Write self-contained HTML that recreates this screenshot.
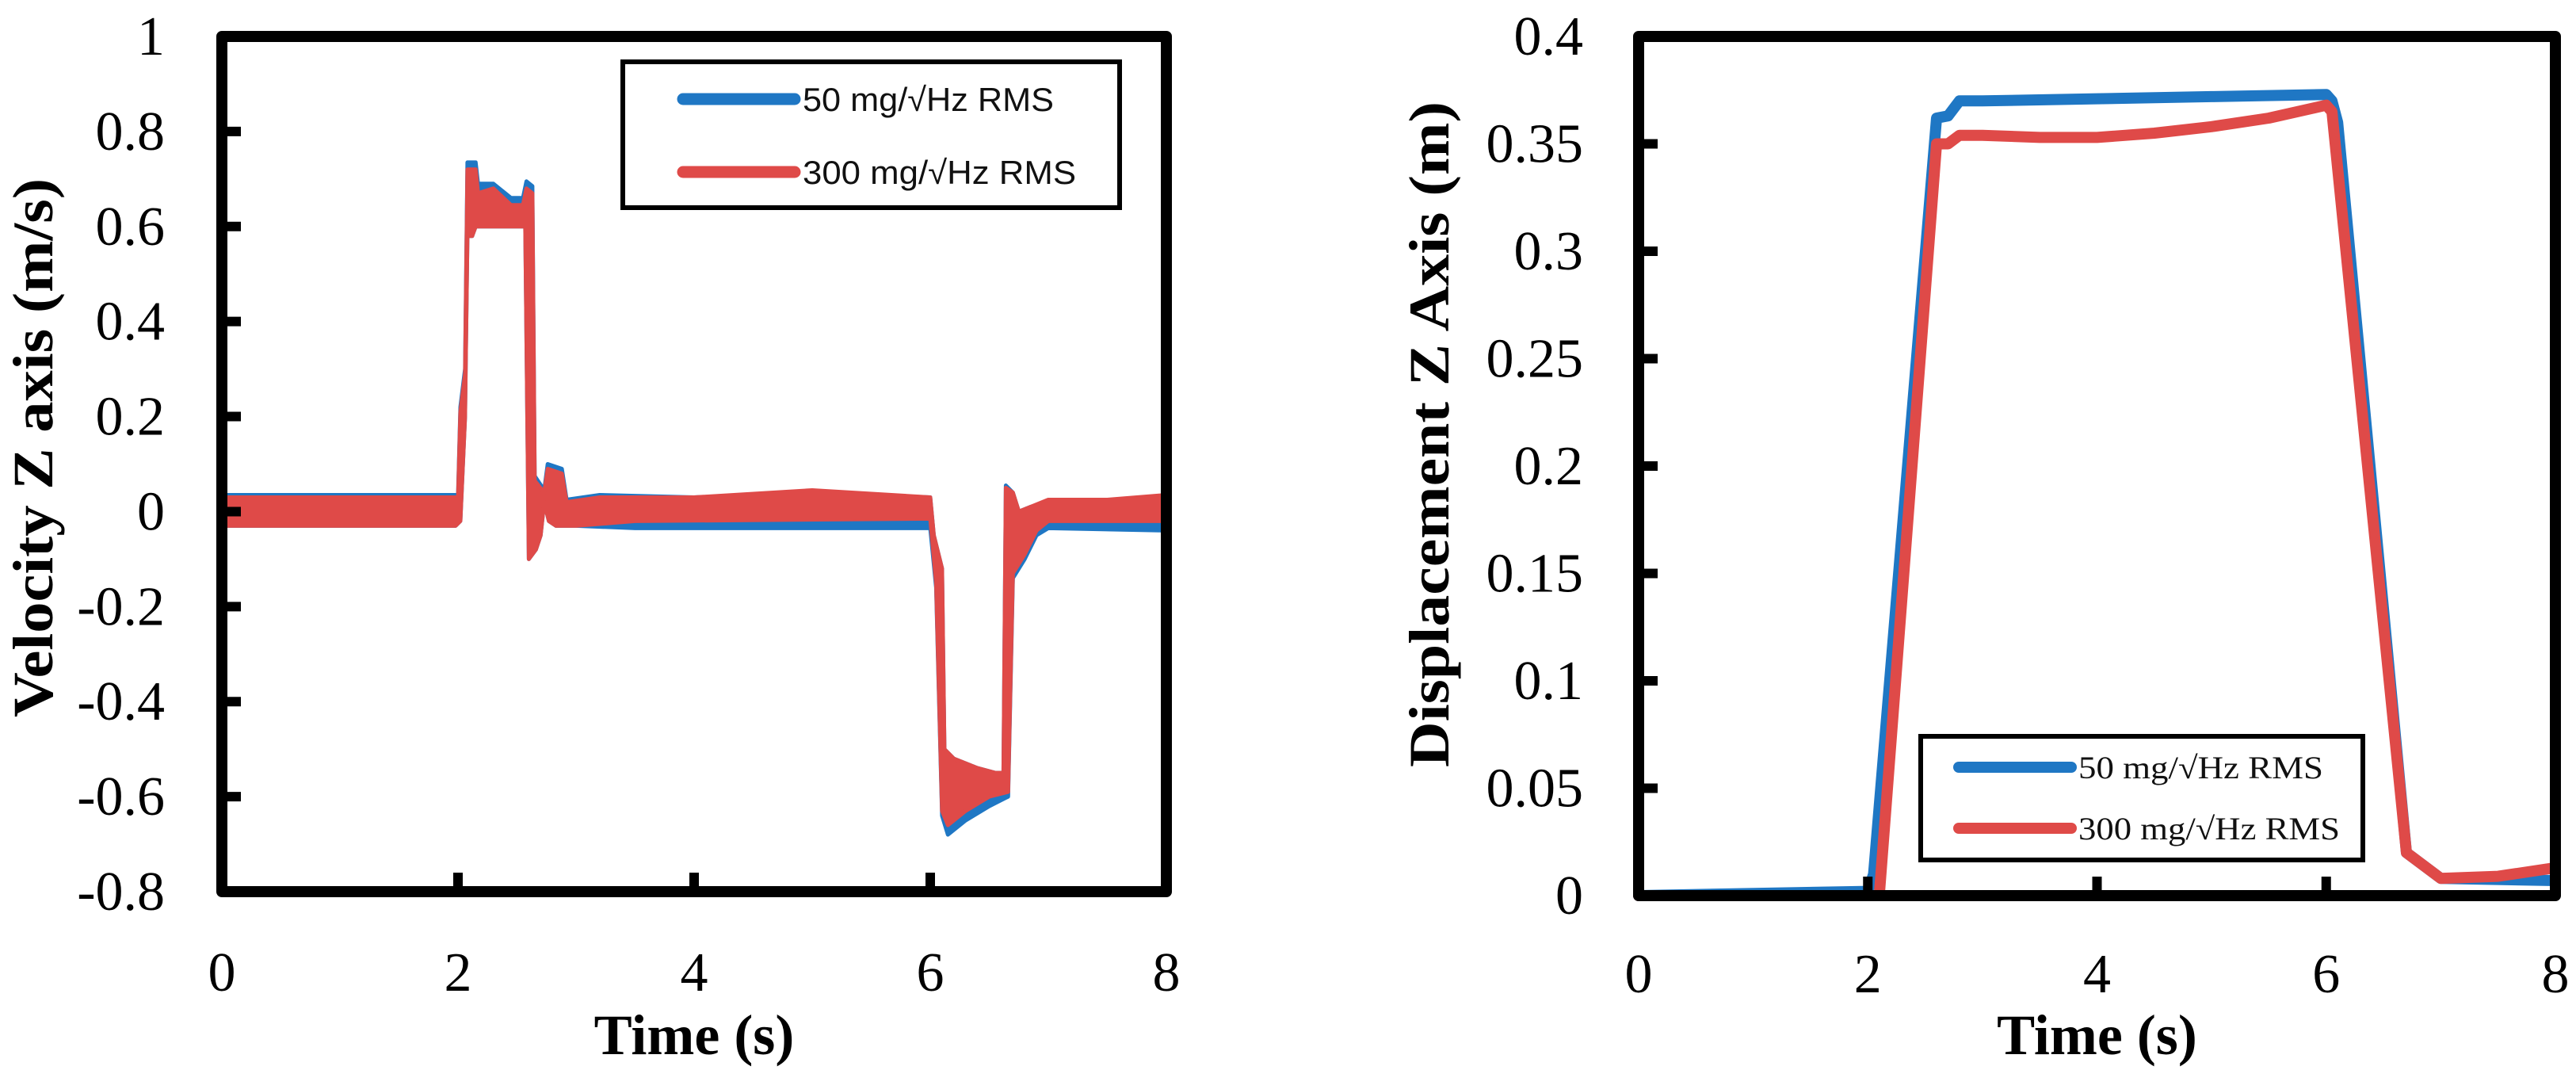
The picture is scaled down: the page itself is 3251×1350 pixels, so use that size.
<!DOCTYPE html>
<html><head><meta charset="utf-8"><style>
html,body{margin:0;padding:0;background:#fff;}
svg{display:block;}
</style></head><body>
<svg id="chart" width="3251" height="1350" viewBox="0 0 3251 1350" xmlns="http://www.w3.org/2000/svg">
<g id="left"></g>
<g id="right"></g>
</svg>
<script>
// ---- Velocity chart data ----
const velXTicks = [0, 2, 4, 6, 8];
const velYTicks = [-0.8, -0.6, -0.4, -0.2, 0, 0.2, 0.4, 0.6, 0.8, 1];
const velYTickLabels = ["-0.8","-0.6","-0.4","-0.2","0","0.2","0.4","0.6","0.8","1"];
const blueUpT = [0,1.98,2.0,2.02,2.06,2.08,2.15,2.17,2.3,2.45,2.55,2.58,2.63,2.65,2.73,2.76,2.88,2.92,3.2,4.0,5.0,6.0,6.03,6.1,6.12,6.2,6.4,6.55,6.62,6.64,6.7,6.75,6.85,7.0,7.5,8.0];
const blueUpV = [0.035,0.035,0.03,0.22,0.3,0.735,0.735,0.69,0.69,0.66,0.66,0.695,0.685,0.075,0.045,0.1,0.09,0.025,0.035,0.03,0.04,0.03,-0.05,-0.12,-0.5,-0.52,-0.54,-0.55,-0.55,0.055,0.04,0.0,0.01,0.02,0.02,0.03];
const blueLoT = [0,1.98,2.02,2.06,2.08,2.12,2.15,2.5,2.57,2.6,2.66,2.7,2.73,2.77,2.83,3.0,3.5,6.0,6.05,6.1,6.15,6.3,6.5,6.66,6.7,6.8,6.9,7.0,8.0];
const blueLoV = [-0.03,-0.03,-0.02,0.2,0.58,0.58,0.6,0.6,0.6,-0.1,-0.08,-0.05,0.02,-0.02,-0.03,-0.03,-0.035,-0.035,-0.16,-0.64,-0.68,-0.65,-0.62,-0.6,-0.14,-0.1,-0.05,-0.035,-0.04];
const redUpT = [0,1.98,2.0,2.02,2.06,2.08,2.15,2.17,2.3,2.45,2.55,2.58,2.63,2.65,2.73,2.76,2.88,2.92,3.2,4.0,5.0,6.0,6.03,6.1,6.12,6.2,6.4,6.55,6.62,6.64,6.7,6.75,6.85,7.0,7.5,8.0];
const redUpV = [0.03,0.03,0.025,0.21,0.29,0.72,0.72,0.67,0.68,0.645,0.645,0.68,0.67,0.065,0.04,0.09,0.08,0.02,0.03,0.03,0.045,0.03,-0.05,-0.12,-0.5,-0.52,-0.54,-0.55,-0.55,0.05,0.04,0.0,0.01,0.025,0.025,0.035];
const redLoT = [0,1.98,2.02,2.06,2.08,2.12,2.15,2.5,2.57,2.6,2.66,2.7,2.73,2.77,2.83,3.0,3.5,6.0,6.05,6.1,6.15,6.3,6.5,6.66,6.7,6.8,6.9,7.0,8.0];
const redLoV = [-0.03,-0.03,-0.02,0.2,0.58,0.58,0.6,0.6,0.6,-0.1,-0.08,-0.05,0.02,-0.02,-0.03,-0.03,-0.02,-0.015,-0.15,-0.63,-0.66,-0.63,-0.6,-0.59,-0.13,-0.09,-0.04,-0.02,-0.02];

// ---- Displacement chart data ----
const dispXTicks = [0, 2, 4, 6, 8];
const dispYTicks = [0, 0.05, 0.1, 0.15, 0.2, 0.25, 0.3, 0.35, 0.4];
const dispYTickLabels = ["0","0.05","0.1","0.15","0.2","0.25","0.3","0.35","0.4"];
const dispBlueT = [0,2.0,2.05,2.6,2.7,2.8,3.0,4.0,5.0,6.0,6.05,6.1,6.7,7.0,8.0];
const dispBlueV = [0,0.002,0.01,0.362,0.363,0.37,0.37,0.371,0.372,0.373,0.37,0.36,0.02,0.008,0.007];
const dispRedT = [0,2.0,2.1,2.6,2.7,2.8,3.0,3.5,4.0,4.5,5.0,5.5,6.0,6.05,6.7,7.0,7.5,8.0];
const dispRedV = [0,0,0,0.35,0.35,0.354,0.354,0.353,0.353,0.355,0.358,0.362,0.368,0.365,0.02,0.008,0.009,0.013];

const NS = "http://www.w3.org/2000/svg";
function mk(parent, tag, attrs, text){
  const e = document.createElementNS(NS, tag);
  for (const k in attrs) e.setAttribute(k, attrs[k]);
  if (text !== undefined) e.textContent = text;
  parent.appendChild(e);
  return e;
}
const BLUE = "#1f77c4", RED = "#df4a48";

// ===== Left chart =====
(function(){
  const g = document.getElementById('left');
  const L=280, R=1472, T=46, B=1125, xMin=0, xMax=8, yMin=-0.8, yMax=1;
  const xs = t => L + (t - xMin) / (xMax - xMin) * (R - L);
  const ys = v => B - (v - yMin) / (yMax - yMin) * (B - T);
  function band(upT, upV, loT, loV, color, name){
    let pts = upT.map((t,i)=>xs(t).toFixed(1)+","+ys(upV[i]).toFixed(1));
    for (let i=loT.length-1;i>=0;i--) pts.push(xs(loT[i]).toFixed(1)+","+ys(loV[i]).toFixed(1));
    const p = mk(g,'polygon',{points:pts.join(" "),fill:color,stroke:color,'stroke-width':5,'stroke-linejoin':'round'});
    
    
  }
  band(blueUpT, blueUpV, blueLoT, blueLoV, BLUE, 'series-50mg');
  band(redUpT, redUpV, redLoT, redLoV, RED, 'series-300mg');
  const fr = mk(g,'rect',{x:L,y:T,width:R-L,height:B-T,fill:'none',stroke:'#000','stroke-width':14,'stroke-linejoin':'round'});
  
  
  velYTicks.forEach((v,i)=>{
    const y = ys(v);
    if (v>yMin && v<yMax) {
      const tk = mk(g,'line',{x1:L,x2:L+24,y1:y,y2:y,stroke:'#000','stroke-width':12});
      
      
    }
    const tl = mk(g,'text',{x:208,y:y+23,'text-anchor':'end','font-family':'"Liberation Serif", serif','font-size':70},velYTickLabels[i]);
    
    
  });
  velXTicks.forEach(t=>{
    const x = xs(t);
    if (t>xMin && t<xMax) {
      const tk = mk(g,'line',{x1:x,x2:x,y1:B,y2:B-24,stroke:'#000','stroke-width':12});
      
      
    }
    const tl = mk(g,'text',{x:x,y:1250,'text-anchor':'middle','font-family':'"Liberation Serif", serif','font-size':70},String(t));
    
    
  });
  const xt = mk(g,'text',{x:(L+R)/2,y:1330,'text-anchor':'middle','font-family':'"Liberation Serif", serif','font-size':72,'font-weight':'bold'},'Time (s)');
  
  
  const yt = mk(g,'text',{x:0,y:0,'text-anchor':'middle','font-family':'"Liberation Serif", serif','font-size':72,'font-weight':'bold',transform:'translate(66,565) rotate(-90)',textLength:680,lengthAdjust:'spacingAndGlyphs'},'Velocity Z axis (m/s)');
  
  
  const lg = mk(g,'g',{});
  
  
  mk(lg,'rect',{x:786,y:78,width:627,height:184,fill:'#fff',stroke:'#000','stroke-width':6});
  [[BLUE,125,'50 mg/\u221AHz RMS',317,'legend-entry-50mg'],[RED,217,'300 mg/\u221AHz RMS',345,'legend-entry-300mg']].forEach(e=>{
    const eg = mk(lg,'g',{});
    
    
    mk(eg,'line',{x1:862,x2:1003,y1:e[1],y2:e[1],stroke:e[0],'stroke-width':15,'stroke-linecap':'round'});
    mk(eg,'text',{x:1013,y:e[1]+15,'font-family':'"Liberation Sans", sans-serif','font-size':42,textLength:e[3],lengthAdjust:'spacingAndGlyphs',fill:'#111'},e[2]);
  });
})();

// ===== Right chart =====
(function(){
  const g = document.getElementById('right');
  const L=2068, R=3225, T=46, B=1130, xMin=0, xMax=8, yMin=0, yMax=0.4;
  const xs = t => L + (t - xMin) / (xMax - xMin) * (R - L);
  const ys = v => B - (v - yMin) / (yMax - yMin) * (B - T);
  function line(tt, vv, color, name){
    const d = tt.map((t,i)=>(i?'L':'M')+xs(t).toFixed(1)+','+ys(vv[i]).toFixed(1)).join(' ');
    const p = mk(g,'path',{d:d,fill:'none',stroke:color,'stroke-width':14,'stroke-linejoin':'round','stroke-linecap':'round'});
    
    
  }
  line(dispBlueT, dispBlueV, BLUE, 'series-50mg');
  line(dispRedT, dispRedV, RED, 'series-300mg');
  const fr = mk(g,'rect',{x:L,y:T,width:R-L,height:B-T,fill:'none',stroke:'#000','stroke-width':14,'stroke-linejoin':'round'});
  
  
  dispYTicks.forEach((v,i)=>{
    const y = ys(v);
    if (v>yMin && v<yMax) {
      const tk = mk(g,'line',{x1:L,x2:L+24,y1:y,y2:y,stroke:'#000','stroke-width':12});
      
      
    }
    const tl = mk(g,'text',{x:1998,y:y+23,'text-anchor':'end','font-family':'"Liberation Serif", serif','font-size':70},dispYTickLabels[i]);
    
    
  });
  dispXTicks.forEach(t=>{
    const x = xs(t);
    if (t>xMin && t<xMax) {
      const tk = mk(g,'line',{x1:x,x2:x,y1:B,y2:B-24,stroke:'#000','stroke-width':12});
      
      
    }
    const tl = mk(g,'text',{x:x,y:1252,'text-anchor':'middle','font-family':'"Liberation Serif", serif','font-size':70},String(t));
    
    
  });
  const xt = mk(g,'text',{x:(L+R)/2,y:1330,'text-anchor':'middle','font-family':'"Liberation Serif", serif','font-size':72,'font-weight':'bold'},'Time (s)');
  
  
  const yt = mk(g,'text',{x:0,y:0,'text-anchor':'middle','font-family':'"Liberation Serif", serif','font-size':72,'font-weight':'bold',transform:'translate(1828,548) rotate(-90)',textLength:840,lengthAdjust:'spacingAndGlyphs'},'Displacement Z Axis (m)');
  
  
  const lg = mk(g,'g',{});
  
  
  mk(lg,'rect',{x:2424,y:929,width:558,height:156,fill:'#fff',stroke:'#000','stroke-width':6});
  [[BLUE,968,'50 mg/\u221AHz RMS',309,'legend-entry-50mg'],[RED,1045,'300 mg/\u221AHz RMS',330,'legend-entry-300mg']].forEach(e=>{
    const eg = mk(lg,'g',{});
    
    
    mk(eg,'line',{x1:2472,x2:2614,y1:e[1],y2:e[1],stroke:e[0],'stroke-width':14,'stroke-linecap':'round'});
    mk(eg,'text',{x:2623,y:e[1]+14,'font-family':'"Liberation Serif", serif','font-size':40,textLength:e[3],lengthAdjust:'spacingAndGlyphs',fill:'#111'},e[2]);
  });
})();
</script>
</body></html>
